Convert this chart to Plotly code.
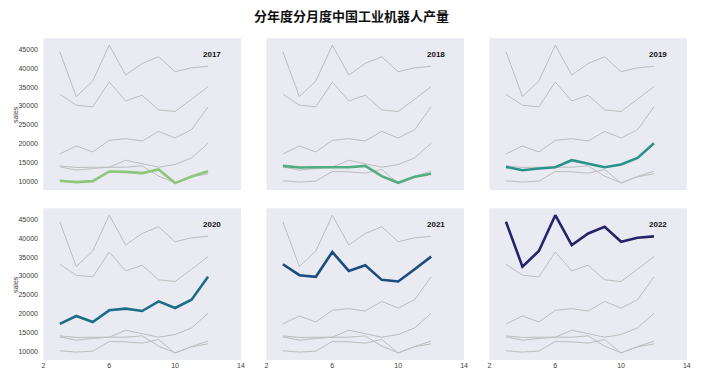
import plotly.graph_objects as go

months = [3, 4, 5, 6, 7, 8, 9, 10, 11, 12]
years = ["2017", "2018", "2019", "2020", "2021", "2022"]
sales_2017 = [10090, 9740, 10000, 12560, 12470, 12120, 13090, 9470, 11230, 12650]
sales_2018 = [14060, 13620, 13700, 13790, 13700, 14060, 11320, 9560, 11150, 11940]
sales_2019 = [13790, 12910, 13350, 13700, 15560, 14670, 13700, 14410, 16170, 20050]
sales_2020 = [17230, 19350, 17760, 20850, 21290, 20670, 23230, 21470, 23670, 29760]
sales_2021 = [33110, 30200, 29760, 36370, 31340, 32840, 28960, 28520, 31790, 35140]
sales_2022 = [44400, 32490, 36640, 46160, 38220, 41310, 43080, 39100, 40160, 40520]
series = [sales_2017, sales_2018, sales_2019, sales_2020, sales_2021, sales_2022]
colors = ["#8cc77a", "#52ae80", "#2a9289", "#1c6d86", "#1a4c80", "#25236a"]
y_ticks = [10000, 15000, 20000, 25000, 30000, 35000, 40000, 45000]
y_tick_labels = ["10000", "15000", "20000", "25000", "30000", "35000", "40000", "45000"]
x_ticks = [2, 6, 10, 14]
title = "分年度分月度中国工业机器人产量"

W, H = 710, 384
xdoms = [(41.7, 241.0), (266.7, 466.0), (491.7, 690.7)]
ydoms = [(38.3, 190.0), (208.3, 360.0)]

allv = [v for s in series for v in s]
lo, hi = min(allv), max(allv)
pad = (hi - lo) * 0.05
yrange = [lo - pad, hi + pad]

fig = go.Figure()
layout = {}
annotations = []
tickfont = dict(size=7, color="#3a3a3a", family="Liberation Sans")
for i, yr in enumerate(years):
    r, c = divmod(i, 3)
    n = i + 1
    xa = "x" if n == 1 else f"x{n}"
    ya = "y" if n == 1 else f"y{n}"
    for s in series:
        fig.add_trace(go.Scatter(x=months, y=s, mode="lines", xaxis=xa, yaxis=ya,
                                 line=dict(color="#bdbdbd", width=1), showlegend=False,
                                 hoverinfo="skip"))
    fig.add_trace(go.Scatter(x=months, y=series[i], mode="lines", xaxis=xa, yaxis=ya,
                             line=dict(color=colors[i], width=2.6), showlegend=False,
                             name=yr))
    xd = xdoms[c]
    yd = ydoms[r]
    layout["xaxis" if n == 1 else f"xaxis{n}"] = dict(
        domain=[xd[0] / W, xd[1] / W], range=[2, 14], tickvals=x_ticks,
        ticktext=[str(v) for v in x_ticks],
        showticklabels=(r == 1), showgrid=False, zeroline=False, showline=False,
        ticks="", tickfont=tickfont, anchor=ya)
    layout["yaxis" if n == 1 else f"yaxis{n}"] = dict(
        domain=[1 - yd[1] / H, 1 - yd[0] / H], range=yrange, tickvals=y_ticks,
        ticktext=y_tick_labels,
        showticklabels=(c == 0), showgrid=False, zeroline=False, showline=False,
        ticks="outside", ticklen=3, tickcolor="rgba(0,0,0,0)", tickfont=tickfont, anchor=xa)
    annotations.append(dict(text=f"<b>{yr}</b>", xref=f"{xa} domain", yref=f"{ya} domain",
                            x=0.8, y=0.85, xanchor="left", yanchor="bottom", showarrow=False,
                            font=dict(size=8, color="#111111", family="Liberation Sans")))
    if c == 0:
        annotations.append(dict(text="sales", xref="paper", yref="paper",
                                x=13 / W, y=1 - (yd[0] + yd[1]) / 2 / H, textangle=-90,
                                xanchor="center", yanchor="middle", showarrow=False,
                                font=dict(size=7, color="#3a3a3a", family="Liberation Sans")))

shapes = []
for r in range(2):
    for c in range(3):
        xd, yd = xdoms[c], ydoms[r]
        shapes.append(dict(type="rect", xref="paper", yref="paper", layer="below",
                           x0=xd[0] / W, x1=xd[1] / W, y0=1 - yd[1] / H, y1=1 - yd[0] / H,
                           fillcolor="#eaeaf2", line=dict(width=0)))

annotations.append(dict(text=f"<b>{title}</b>", xref="paper", yref="paper", x=352 / W,
                        y=1 - 16 / H, xanchor="center", yanchor="middle", showarrow=False,
                        font=dict(size=13, color="#111111", family="Noto Sans CJK SC")))

fig.update_layout(width=W, height=H, margin=dict(l=0, r=0, t=0, b=0),
                  paper_bgcolor="white", plot_bgcolor="rgba(0,0,0,0)",
                  annotations=annotations, shapes=shapes, **layout)
fig.write_html("out.html")
